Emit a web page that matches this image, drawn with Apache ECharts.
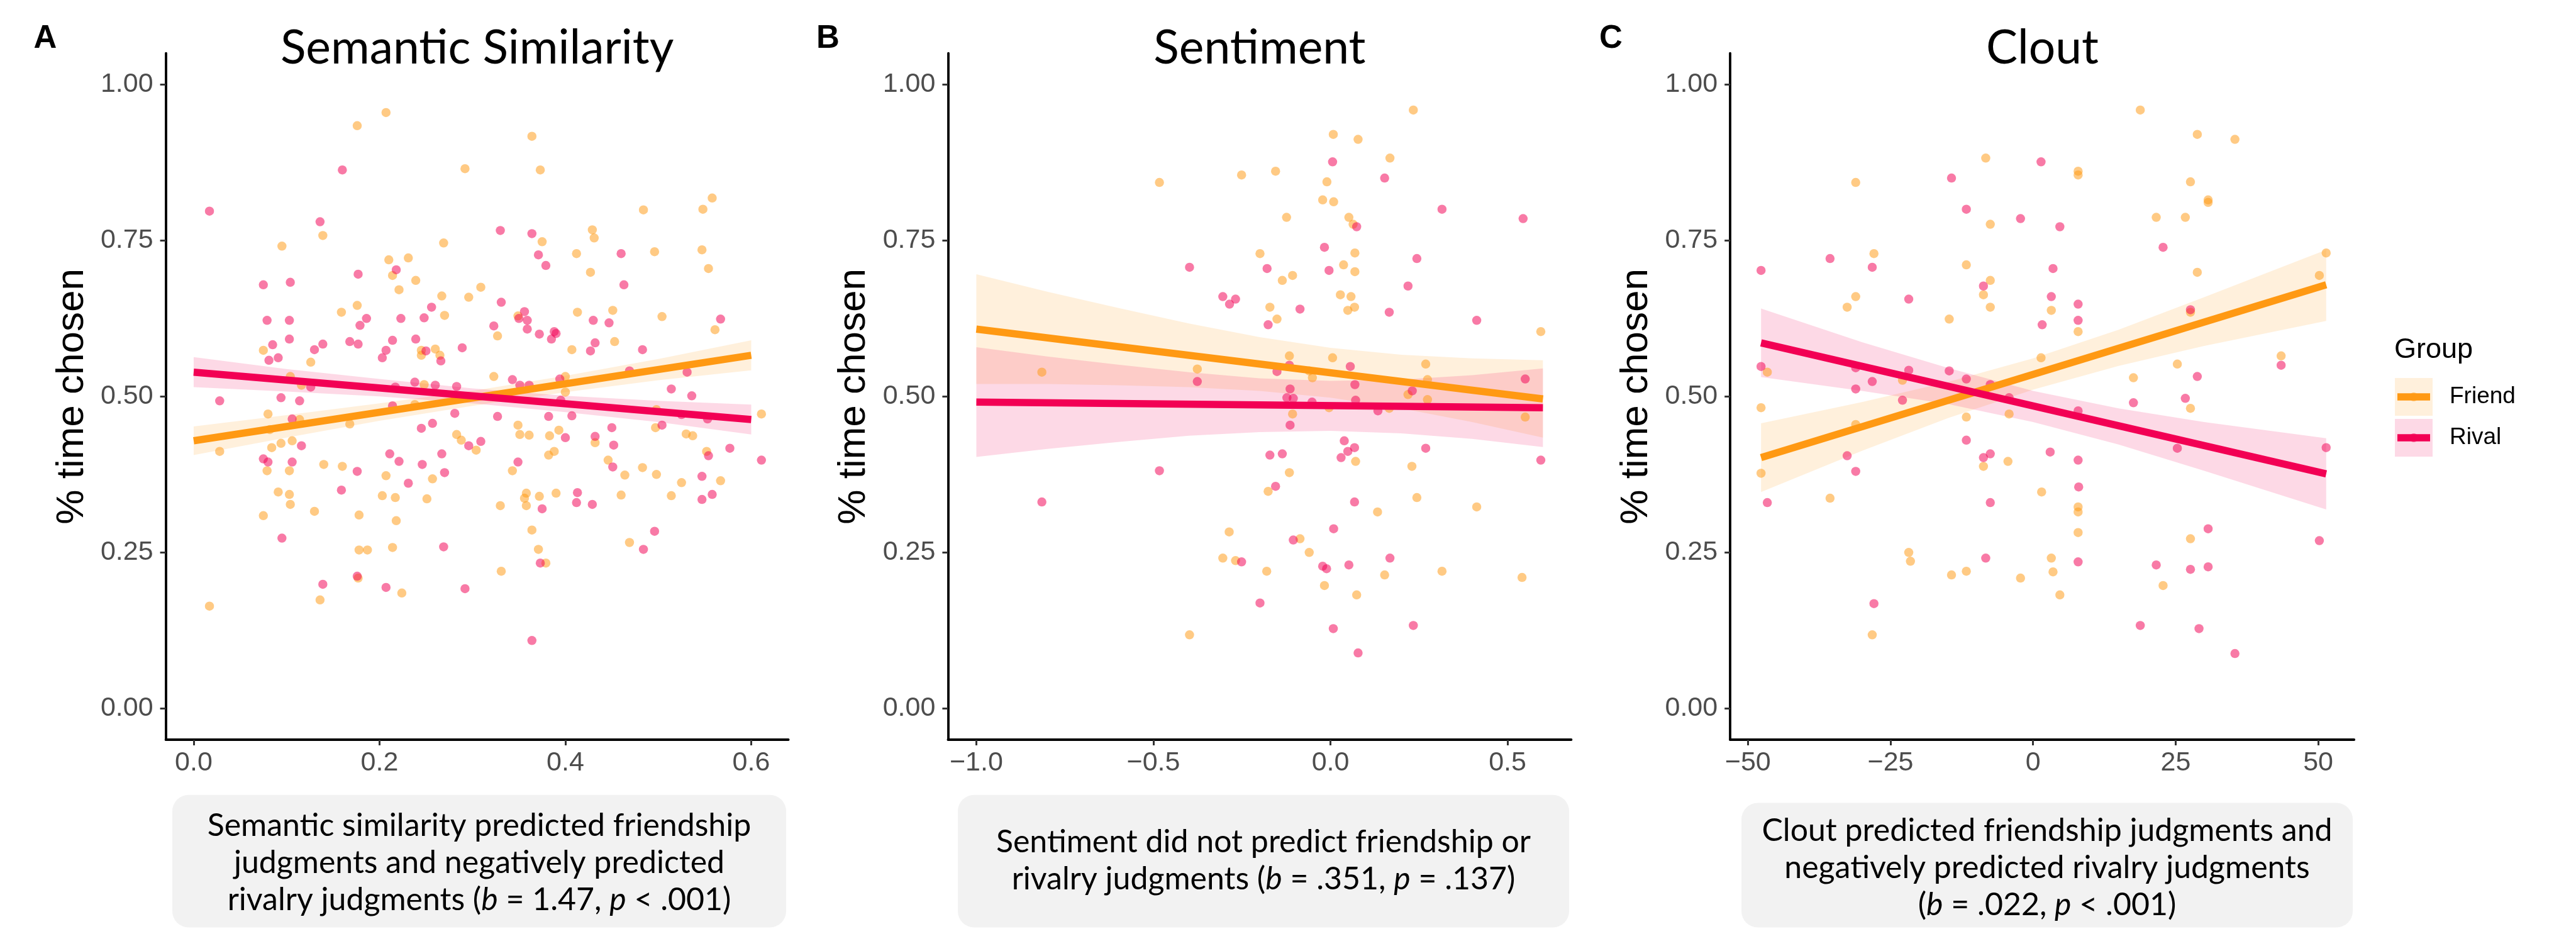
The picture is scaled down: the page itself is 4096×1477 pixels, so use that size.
<!DOCTYPE html>
<html>
<head>
<meta charset="utf-8">
<title>Friend / Rival judgments</title>
<script src="https://cdn.jsdelivr.net/npm/echarts@6.0.0/dist/echarts.min.js"></script>
<style>
  html, body { margin: 0; padding: 0; background: #fff; }
  #chart { width: 4096px; height: 1477px; }
</style>
</head>
<body>
<div id="chart"></div>
<script>
// ---- data ----
const yTicks = [0, 0.25, 0.5, 0.75, 1];
const semTicks = [0, 0.2, 0.4, 0.6];
const sentTicks = [-1, -0.5, 0, 0.5];
const cloutTicks = [-50, -25, 0, 25, 50];

// A: semantic similarity
const semFriend = [
  [0.207,0.955],[0.176,0.934],[0.364,0.917],[0.292,0.865],[0.373,0.863],[0.484,0.799],[0.548,0.800],[0.558,0.818],
  [0.139,0.758],[0.429,0.767],[0.431,0.754],[0.375,0.748],[0.095,0.741],[0.269,0.746],[0.496,0.732],[0.547,0.735],
  [0.412,0.729],[0.210,0.719],[0.231,0.722],[0.554,0.705],[0.427,0.699],[0.214,0.694],[0.239,0.686],[0.221,0.671],
  [0.309,0.675],[0.267,0.661],[0.296,0.659],[0.176,0.646],[0.159,0.635],[0.451,0.638],[0.413,0.635],[0.270,0.630],
  [0.349,0.629],[0.504,0.628],[0.561,0.607],[0.327,0.597],[0.453,0.588],[0.075,0.574],[0.407,0.575],[0.260,0.576],
  [0.245,0.574],[0.245,0.566],[0.265,0.566],[0.126,0.555],[0.323,0.532],[0.400,0.532],[0.248,0.519],[0.400,0.507],
  [0.104,0.532],[0.116,0.518],[0.238,0.487],[0.498,0.479],[0.080,0.472],[0.611,0.472],[0.114,0.463],[0.168,0.456],
  [0.349,0.454],[0.497,0.450],[0.082,0.447],[0.393,0.446],[0.351,0.439],[0.361,0.438],[0.383,0.437],[0.530,0.440],
  [0.537,0.437],[0.283,0.439],[0.106,0.429],[0.094,0.425],[0.288,0.430],[0.432,0.426],[0.388,0.412],[0.382,0.406],
  [0.304,0.414],[0.084,0.418],[0.028,0.412],[0.552,0.412],[0.446,0.398],[0.140,0.391],[0.160,0.388],[0.079,0.381],
  [0.103,0.381],[0.343,0.381],[0.483,0.386],[0.498,0.375],[0.464,0.374],[0.207,0.373],[0.257,0.368],[0.567,0.365],
  [0.525,0.362],[0.091,0.347],[0.103,0.343],[0.203,0.341],[0.217,0.338],[0.251,0.336],[0.358,0.345],[0.372,0.340],
  [0.390,0.345],[0.356,0.337],[0.460,0.342],[0.514,0.341],[0.104,0.327],[0.330,0.325],[0.358,0.325],[0.075,0.309],
  [0.130,0.316],[0.178,0.310],[0.218,0.301],[0.364,0.286],[0.469,0.266],[0.178,0.254],[0.187,0.254],[0.214,0.258],
  [0.371,0.255],[0.379,0.233],[0.331,0.220],[0.177,0.209],[0.136,0.174],[0.224,0.185],[0.017,0.164]
];
const semRival = [
  [0.160,0.863],[0.017,0.797],[0.136,0.780],[0.330,0.766],[0.364,0.761],[0.371,0.727],[0.460,0.729],[0.379,0.710],
  [0.218,0.703],[0.177,0.696],[0.104,0.683],[0.075,0.679],[0.463,0.679],[0.331,0.651],[0.256,0.643],[0.356,0.636],
  [0.079,0.622],[0.103,0.622],[0.186,0.625],[0.223,0.625],[0.248,0.626],[0.350,0.625],[0.359,0.622],[0.430,0.622],
  [0.447,0.618],[0.567,0.624],[0.179,0.614],[0.323,0.613],[0.359,0.608],[0.372,0.600],[0.388,0.604],[0.390,0.601],
  [0.103,0.592],[0.214,0.590],[0.168,0.588],[0.239,0.592],[0.385,0.592],[0.432,0.586],[0.139,0.584],[0.177,0.584],
  [0.085,0.583],[0.130,0.575],[0.289,0.578],[0.483,0.575],[0.207,0.574],[0.250,0.573],[0.427,0.573],[0.091,0.562],
  [0.203,0.562],[0.081,0.558],[0.266,0.557],[0.531,0.539],[0.469,0.541],[0.343,0.527],[0.238,0.523],[0.394,0.528],
  [0.536,0.501],[0.260,0.518],[0.217,0.515],[0.283,0.516],[0.361,0.518],[0.351,0.518],[0.126,0.515],[0.514,0.512],
  [0.094,0.498],[0.028,0.493],[0.114,0.493],[0.395,0.494],[0.214,0.485],[0.553,0.464],[0.281,0.473],[0.525,0.471],
  [0.382,0.468],[0.407,0.469],[0.327,0.468],[0.106,0.464],[0.257,0.457],[0.504,0.454],[0.450,0.450],[0.245,0.449],
  [0.400,0.434],[0.432,0.436],[0.309,0.428],[0.452,0.422],[0.116,0.421],[0.296,0.421],[0.211,0.408],[0.267,0.408],
  [0.554,0.405],[0.577,0.417],[0.075,0.400],[0.080,0.395],[0.106,0.395],[0.221,0.396],[0.246,0.391],[0.349,0.395],
  [0.451,0.387],[0.611,0.398],[0.176,0.380],[0.270,0.378],[0.231,0.361],[0.547,0.372],[0.159,0.350],[0.413,0.346],
  [0.547,0.335],[0.558,0.343],[0.412,0.330],[0.429,0.327],[0.375,0.320],[0.496,0.284],[0.095,0.273],[0.269,0.259],
  [0.484,0.255],[0.373,0.233],[0.176,0.212],[0.139,0.199],[0.207,0.194],[0.292,0.192],[0.364,0.109]
];
const semFriendLine = [[0, 0.429], [0.6, 0.566]];
const semRivalLine = [[0, 0.539], [0.6, 0.463]];
const semBandX = [0, 0.1, 0.2, 0.3, 0.4, 0.5, 0.6];
const semFriendLo = [0.406, 0.434, 0.461, 0.485, 0.507, 0.526, 0.542];
const semFriendHi = [0.452, 0.470, 0.489, 0.509, 0.533, 0.560, 0.590];
const semRivalLo = [0.515, 0.508, 0.500, 0.489, 0.475, 0.459, 0.439];
const semRivalHi = [0.563, 0.544, 0.528, 0.513, 0.501, 0.493, 0.487];

// B: sentiment
const sentFriend = [
  [0.234,0.959],[0.008,0.920],[0.078,0.912],[0.168,0.882],[-0.251,0.855],[-0.155,0.861],[-0.483,0.843],[-0.010,0.844],
  [-0.022,0.815],[0.009,0.812],[-0.124,0.787],[0.052,0.787],[0.064,0.776],[-0.199,0.729],[0.069,0.730],[0.037,0.711],
  [0.069,0.700],[-0.107,0.694],[-0.136,0.686],[0.028,0.663],[0.058,0.660],[-0.171,0.643],[0.068,0.643],[0.049,0.638],
  [-0.151,0.624],[0.594,0.604],[-0.116,0.565],[0.006,0.562],[0.269,0.552],[-0.376,0.544],[-0.815,0.539],[-0.060,0.541],
  [-0.051,0.530],[0.274,0.527],[0.219,0.503],[0.274,0.495],[-0.004,0.482],[0.166,0.481],[-0.107,0.472],[0.550,0.467],
  [0.071,0.396],[0.230,0.388],[-0.116,0.378],[-0.176,0.348],[0.244,0.338],[0.413,0.323],[0.133,0.315],[-0.286,0.283],
  [-0.086,0.272],[-0.060,0.250],[-0.304,0.241],[-0.268,0.237],[0.315,0.220],[-0.180,0.220],[0.153,0.214],[0.541,0.210],
  [-0.017,0.197],[0.074,0.182],[-0.398,0.118]
];
const sentRival = [
  [0.006,0.876],[0.153,0.850],[0.315,0.800],[0.544,0.785],[0.074,0.772],[-0.017,0.739],[0.244,0.721],[-0.398,0.707],
  [-0.179,0.705],[-0.004,0.702],[0.219,0.677],[-0.304,0.660],[-0.268,0.656],[-0.285,0.648],[-0.086,0.640],[0.166,0.635],
  [0.413,0.622],[-0.176,0.615],[-0.116,0.550],[0.056,0.548],[-0.151,0.540],[0.550,0.528],[-0.376,0.524],[0.069,0.519],
  [-0.114,0.512],[0.231,0.509],[-0.123,0.498],[-0.105,0.497],[0.071,0.494],[-0.052,0.491],[0.134,0.477],[-0.114,0.454],
  [0.039,0.429],[0.068,0.418],[0.269,0.417],[0.049,0.412],[-0.136,0.408],[-0.171,0.406],[0.030,0.402],[0.594,0.398],
  [-0.483,0.381],[-0.155,0.356],[-0.815,0.331],[0.068,0.331],[0.009,0.288],[-0.105,0.270],[0.168,0.241],[-0.251,0.235],
  [0.052,0.230],[-0.022,0.228],[-0.011,0.224],[-0.199,0.169],[0.234,0.133],[0.008,0.128],[0.078,0.089]
];
const sentFriendLine = [[-1, 0.608], [0.6, 0.496]];
const sentRivalLine = [[-1, 0.491], [0.6, 0.482]];
const sentBandX = [-1, -0.8, -0.6, -0.4, -0.2, 0, 0.2, 0.4, 0.6];
const sentFriendLo = [0.520, 0.520, 0.518, 0.515, 0.509, 0.498, 0.481, 0.459, 0.434];
const sentFriendHi = [0.696, 0.668, 0.642, 0.617, 0.595, 0.578, 0.567, 0.561, 0.558];
const sentRivalLo = [0.403, 0.416, 0.427, 0.437, 0.443, 0.445, 0.441, 0.432, 0.419];
const sentRivalHi = [0.579, 0.564, 0.551, 0.539, 0.529, 0.525, 0.527, 0.534, 0.545];

// C: clout
const cloutFriend = [
  [18.8,0.959],[28.8,0.920],[35.4,0.912],[-8.3,0.882],[7.9,0.861],[7.9,0.855],[-31.1,0.843],[27.6,0.844],
  [30.7,0.815],[30.7,0.811],[21.6,0.787],[26.7,0.787],[-7.5,0.776],[-27.9,0.729],[51.4,0.730],[-11.7,0.711],
  [28.8,0.699],[50.2,0.694],[-7.5,0.686],[-31.1,0.660],[-8.7,0.663],[-32.6,0.643],[-7.5,0.643],[3.2,0.638],
  [27.6,0.635],[-14.7,0.624],[7.9,0.604],[43.5,0.565],[1.4,0.562],[25.3,0.552],[-46.6,0.539],[-22.9,0.526],
  [17.6,0.530],[-47.7,0.482],[27.6,0.481],[-4.2,0.472],[-11.7,0.467],[-31.1,0.455],[-4.4,0.396],[-8.7,0.388],
  [-47.7,0.377],[1.5,0.347],[-35.6,0.337],[7.9,0.323],[7.9,0.315],[7.9,0.282],[27.6,0.272],[-21.8,0.250],
  [3.2,0.241],[-21.5,0.236],[-11.7,0.220],[3.5,0.219],[-14.3,0.214],[-2.2,0.209],[22.8,0.197],[4.7,0.182],
  [-28.2,0.118]
];
const cloutRival = [
  [1.4,0.876],[-14.3,0.850],[-11.7,0.800],[-2.2,0.785],[4.7,0.772],[22.8,0.739],[-35.6,0.721],[-28.2,0.707],
  [3.5,0.705],[-47.7,0.702],[-8.7,0.677],[3.2,0.660],[-21.8,0.656],[7.9,0.648],[27.6,0.639],[7.9,0.622],
  [1.6,0.615],[-47.7,0.548],[43.5,0.550],[-31.1,0.546],[-21.8,0.542],[-14.7,0.541],[28.8,0.532],[-11.7,0.528],
  [-28.2,0.524],[-7.5,0.519],[-31.1,0.512],[-22.9,0.494],[17.6,0.490],[26.7,0.497],[-4.2,0.498],[7.9,0.477],
  [-11.7,0.430],[51.4,0.418],[25.3,0.417],[3.0,0.411],[-7.5,0.408],[-32.6,0.405],[-8.7,0.402],[7.9,0.398],
  [-31.1,0.380],[8.0,0.355],[-46.6,0.330],[-7.5,0.330],[30.7,0.288],[50.2,0.269],[-8.3,0.241],[7.9,0.235],
  [21.6,0.230],[27.6,0.223],[30.7,0.227],[-27.9,0.168],[18.8,0.133],[29.1,0.128],[35.4,0.088]
];
const cloutFriendLine = [[-47.7, 0.402], [51.4, 0.679]];
const cloutRivalLine = [[-47.7, 0.586], [51.4, 0.376]];
const cloutBandX = [-47.7, -30, -15, 0, 15, 30, 51.4];
const cloutFriendLo = [0.347, 0.413, 0.465, 0.511, 0.549, 0.581, 0.621];
const cloutFriendHi = [0.457, 0.491, 0.523, 0.561, 0.607, 0.659, 0.735];
const cloutRivalLo = [0.531, 0.509, 0.488, 0.459, 0.423, 0.381, 0.319];
const cloutRivalHi = [0.641, 0.587, 0.546, 0.509, 0.481, 0.459, 0.433];

// ---- look ----
const FRIEND = '#FF9913';
const RIVAL = '#F20054';
const HELV = '"Liberation Sans", "DejaVu Sans", sans-serif';
const AVENIR = 'Lato, "Noto Sans", sans-serif';

const grids = [
  { left: 263.6, top: 84.7, width: 990, height: 1091.3 },
  { left: 1507.4, top: 84.7, width: 991, height: 1091.3 },
  { left: 2751.2, top: 84.7, width: 992, height: 1091.3 }
];

const minus = s => s.replace('-', '\u2212');

function xAxis(idx, min, max, ticks, fmt) {
  return {
    type: 'value', gridIndex: idx, min: min, max: max,
    splitLine: { show: false },
    axisLine: { onZero: false, lineStyle: { color: '#000', width: 3.8 } },
    axisTick: { customValues: ticks, length: 9, lineStyle: { color: '#333', width: 3 } },
    axisLabel: {
      customValues: ticks, formatter: fmt, color: '#4D4D4D',
      fontSize: 43, fontFamily: HELV, margin: 16
    }
  };
}

function yAxis(idx) {
  return {
    type: 'value', gridIndex: idx, min: -0.05, max: 1.05,
    name: '% time chosen', nameLocation: 'middle', nameGap: 118,
    nameTextStyle: { fontSize: 62, color: '#000', fontFamily: HELV },
    splitLine: { show: false },
    axisLine: { onZero: false, lineStyle: { color: '#000', width: 3.8 } },
    axisTick: { customValues: yTicks, length: 9, lineStyle: { color: '#333', width: 3 } },
    axisLabel: {
      customValues: yTicks, formatter: v => v.toFixed(2), color: '#4D4D4D',
      fontSize: 43, fontFamily: HELV, margin: 20
    }
  };
}

function points(idx, data, color) {
  return {
    type: 'scatter', xAxisIndex: idx, yAxisIndex: idx, data: data,
    symbolSize: 14.5, silent: true,
    itemStyle: { color: color, opacity: 0.52 }
  };
}

// confidence ribbon: one polygon through the band points
function band(idx, xs, lo, hi, color) {
  const rows = xs.map((x, i) => [x, lo[i], hi[i]]);
  return {
    type: 'custom', xAxisIndex: idx, yAxisIndex: idx, data: rows,
    encode: { x: 0, y: [1, 2] }, silent: true,
    renderItem: function (params, api) {
      if (params.dataIndex !== 0) return null;
      const upper = [], lower = [];
      for (let i = 0; i < rows.length; i++) {
        upper.push(api.coord([api.value(0, i), api.value(2, i)]));
        lower.unshift(api.coord([api.value(0, i), api.value(1, i)]));
      }
      return {
        type: 'polygon',
        shape: { points: upper.concat(lower) },
        style: { fill: color, opacity: 0.15 }
      };
    }
  };
}

function fit(idx, data, color) {
  return {
    type: 'line', xAxisIndex: idx, yAxisIndex: idx, data: data,
    symbol: 'none', silent: true,
    lineStyle: { color: color, width: 11.5, cap: 'butt' }
  };
}

function panelSeries(idx, f, r, fl, rl, bx, flo, fhi, rlo, rhi) {
  return [
    points(idx, f, FRIEND),
    points(idx, r, RIVAL),
    band(idx, bx, flo, fhi, FRIEND),
    fit(idx, fl, FRIEND),
    band(idx, bx, rlo, rhi, RIVAL),
    fit(idx, rl, RIVAL)
  ];
}

// ---- text bits ----
const titles = [
  { text: 'Semantic Similarity', x: 758.6 },
  { text: 'Sentiment', x: 2002.9 },
  { text: 'Clout', x: 3247.4 }
];
const letters = [
  { text: 'A', x: 53.5 },
  { text: 'B', x: 1298 },
  { text: 'C', x: 2543 }
];
const captions = [
  { x: 274, y: 1263.7, w: 976, h: 210.8, cy: 1372,
    text: '{n|Semantic similarity predicted friendship}\n{n|judgments and negatively predicted}\n{n|rivalry judgments (}{i|b}{n| = 1.47, }{i|p}{n| < .001)}' },
  { x: 1523, y: 1263.7, w: 972, h: 210.8, cy: 1368,
    text: '{n|Sentiment did not predict friendship or}\n{n|rivalry judgments (}{i|b}{n| = .351, }{i|p}{n| = .137)}' },
  { x: 2769, y: 1276.6, w: 972, h: 198, cy: 1380,
    text: '{n|Clout predicted friendship judgments and}\n{n|negatively predicted rivalry judgments}\n{n|(}{i|b}{n| = .022, }{i|p}{n| < .001)}' }
];
const capRich = {
  n: { fontSize: 50, fontFamily: AVENIR, fill: '#000', lineHeight: 59 },
  i: { fontSize: 50, fontFamily: AVENIR, fontStyle: 'italic', fill: '#000', lineHeight: 59 }
};

const graphic = [];
titles.forEach(t => graphic.push({
  type: 'text', silent: true,
  style: { text: t.text, x: t.x, y: 77, fill: '#000', fontSize: 75, fontFamily: AVENIR,
    textAlign: 'center', textVerticalAlign: 'middle' }
}));
letters.forEach(t => graphic.push({
  type: 'text', silent: true,
  style: { text: t.text, x: t.x, y: 62, fill: '#000', fontSize: 51, fontWeight: 'bold',
    fontFamily: HELV, textAlign: 'left', textVerticalAlign: 'middle' }
}));
captions.forEach(c => {
  graphic.push({
    type: 'rect', silent: true,
    shape: { x: c.x, y: c.y, width: c.w, height: c.h, r: 26 },
    style: { fill: '#F2F2F2' }
  });
  graphic.push({
    type: 'text', silent: true,
    style: { text: c.text, rich: capRich, x: c.x + c.w / 2, y: c.cy,
      textAlign: 'center', textVerticalAlign: 'middle' }
  });
});

// legend (ggplot style keys: ribbon fill + point + line)
const legendItems = [
  { name: 'Friend', color: FRIEND, cy: 631 },
  { name: 'Rival', color: RIVAL, cy: 696 }
];
graphic.push({
  type: 'text', silent: true,
  style: { text: 'Group', x: 3807, y: 557, fill: '#000', fontSize: 45, fontFamily: HELV,
    textAlign: 'left', textVerticalAlign: 'middle' }
});
legendItems.forEach(it => {
  graphic.push({ type: 'rect', silent: true,
    shape: { x: 3808, y: it.cy - 30, width: 60, height: 60 },
    style: { fill: it.color, opacity: 0.15 } });
  graphic.push({ type: 'circle', silent: true,
    shape: { cx: 3838, cy: it.cy, r: 7 },
    style: { fill: it.color, opacity: 0.52 } });
  graphic.push({ type: 'line', silent: true,
    shape: { x1: 3812, y1: it.cy, x2: 3864, y2: it.cy },
    style: { stroke: it.color, lineWidth: 11.5 } });
  graphic.push({ type: 'text', silent: true,
    style: { text: it.name, x: 3895, y: it.cy, fill: '#000', fontSize: 37, fontFamily: HELV,
      textAlign: 'left', textVerticalAlign: 'middle' } });
});

const chart = echarts.init(document.getElementById('chart'), null, { renderer: 'canvas' });
chart.setOption({
  animation: false,
  backgroundColor: '#fff',
  grid: grids.map(g => Object.assign({ outerBoundsMode: 'none', containLabel: false }, g)),
  xAxis: [
    xAxis(0, -0.03, 0.64, semTicks, v => v.toFixed(1)),
    xAxis(1, -1.08, 0.68, sentTicks, v => minus(v.toFixed(1))),
    xAxis(2, -53.1, 56.3, cloutTicks, v => minus(String(v)))
  ],
  yAxis: [yAxis(0), yAxis(1), yAxis(2)],
  series: [].concat(
    panelSeries(0, semFriend, semRival, semFriendLine, semRivalLine,
      semBandX, semFriendLo, semFriendHi, semRivalLo, semRivalHi),
    panelSeries(1, sentFriend, sentRival, sentFriendLine, sentRivalLine,
      sentBandX, sentFriendLo, sentFriendHi, sentRivalLo, sentRivalHi),
    panelSeries(2, cloutFriend, cloutRival, cloutFriendLine, cloutRivalLine,
      cloutBandX, cloutFriendLo, cloutFriendHi, cloutRivalLo, cloutRivalHi)
  ),
  graphic: graphic
});
</script>
</body>
</html>
